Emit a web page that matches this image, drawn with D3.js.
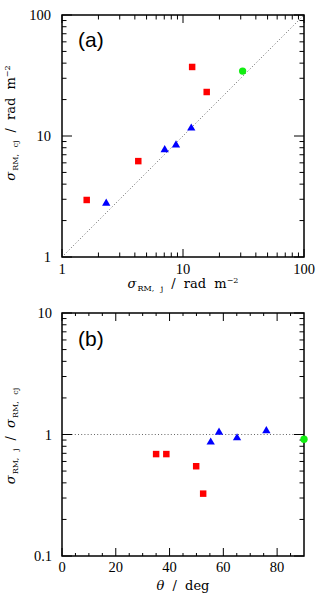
<!DOCTYPE html>
<html>
<head>
<meta charset="utf-8">
<script src="https://cdn.jsdelivr.net/npm/d3@7"></script>
<style>
  body { margin: 0; background: #fff; }
  text { font-family: "DejaVu Serif", "Liberation Serif", serif; fill: #000; }
  .tick { font-family: "Liberation Serif", serif; font-size: 14.5px; }
</style>
</head>
<body>
<div id="chart"></div>
<script>
// panel (a): sigma_RM,cj against sigma_RM,j
var aRedX = [1.6, 4.27, 11.9, 15.7];
var aRedY = [2.96, 6.2, 37.2, 23.1];
var aBlueX = [2.32, 7.06, 8.75, 11.7];
var aBlueY = [2.78, 7.7, 8.43, 11.6];
var aGreenX = [31.1];
var aGreenY = [34.4];

// panel (b): ratio against theta
var bRedTheta = [35, 38.8, 49.9, 52.5];
var bRedRatio = [0.69, 0.69, 0.548, 0.326];
var bBlueTheta = [55.3, 58.4, 65.1, 76.0];
var bBlueRatio = [0.864, 1.04, 0.937, 1.07];
var bGreenTheta = [90];
var bGreenRatio = [0.914];

var aTicks = [1, 10, 100];
var bYTicks = [0.1, 1, 10];
var bYLabels = ["0.1", "1", "10"];
var bXTicks = [0, 20, 40, 60, 80];

var width = 327, height = 599;
var svg = d3.select("#chart").append("svg")
    .attr("width", width)
    .attr("height", height);

var left = 62, right = 304;

function zip(xs, ys) {
    var out = [];
    for (var i = 0; i < xs.length; i++) out.push([xs[i], ys[i]]);
    return out;
}

// log minor ticks 2..9 in each decade
function logMinors(lo, hi) {
    var m = [];
    for (var d = lo; d < hi; d *= 10)
        for (var k = 2; k <= 9; k++) m.push(d * k);
    return m;
}

function drawFrame(g, x, y, xMajor, xMinor, yMajor, yMinor, top, bottom, xMinLen) {
    var majLen = 8, minLen = 4.5;
    var tg = g.append("g").attr("stroke", "#000").attr("stroke-width", 1);
    xMajor.forEach(function(v) {
        tg.append("line").attr("x1", x(v)).attr("x2", x(v)).attr("y1", bottom).attr("y2", bottom - majLen);
        tg.append("line").attr("x1", x(v)).attr("x2", x(v)).attr("y1", top).attr("y2", top + majLen);
    });
    xMinor.forEach(function(v) {
        tg.append("line").attr("x1", x(v)).attr("x2", x(v)).attr("y1", bottom).attr("y2", bottom - xMinLen);
        tg.append("line").attr("x1", x(v)).attr("x2", x(v)).attr("y1", top).attr("y2", top + xMinLen);
    });
    yMajor.forEach(function(v) {
        tg.append("line").attr("x1", left).attr("x2", left + majLen + 2).attr("y1", y(v)).attr("y2", y(v));
        tg.append("line").attr("x1", right).attr("x2", right - majLen - 2).attr("y1", y(v)).attr("y2", y(v));
    });
    yMinor.forEach(function(v) {
        tg.append("line").attr("x1", left).attr("x2", left + minLen).attr("y1", y(v)).attr("y2", y(v));
        tg.append("line").attr("x1", right).attr("x2", right - minLen).attr("y1", y(v)).attr("y2", y(v));
    });
    g.append("rect")
        .attr("x", left).attr("y", top)
        .attr("width", right - left).attr("height", bottom - top)
        .attr("fill", "none").attr("stroke", "#000").attr("stroke-width", 1.5);
}

function drawPoints(g, x, y, red, blue, green) {
    g.selectAll(".sq").data(red).enter().append("path")
        .attr("transform", function(d) { return "translate(" + x(d[0]) + "," + y(d[1]) + ")"; })
        .attr("d", d3.symbol().type(d3.symbolSquare).size(42))
        .attr("fill", "#ff0000");
    g.selectAll(".tri").data(blue).enter().append("path")
        .attr("transform", function(d) { return "translate(" + x(d[0]) + "," + y(d[1]) + ")"; })
        .attr("d", d3.symbol().type(d3.symbolTriangle).size(30))
        .attr("fill", "#0000ff");
    g.selectAll(".circ").data(green).enter().append("path")
        .attr("transform", function(d) { return "translate(" + x(d[0]) + "," + y(d[1]) + ")"; })
        .attr("d", d3.symbol().type(d3.symbolCircle).size(42))
        .attr("fill", "#11ee11");
}

function sigmaLabel(t, sub) {
    t.append("tspan").attr("font-style", "italic").text("σ");
    t.append("tspan").attr("font-size", "8px").attr("dy", 3).attr("dx", 1).text(sub);
    t.append("tspan").attr("dy", -3).text(" ");
}

// ---------- panel (a) ----------
var aTop = 15, aBottom = 257;
var xa = d3.scaleLog().domain([1, 100]).range([left, right]);
var ya = d3.scaleLog().domain([1, 100]).range([aBottom, aTop]);
var ga = svg.append("g");

ga.append("line")
    .attr("x1", xa(1)).attr("y1", ya(1)).attr("x2", xa(100)).attr("y2", ya(100))
    .attr("stroke", "#555").attr("stroke-width", 0.9).attr("stroke-dasharray", "1,2.2");

drawPoints(ga, xa, ya, zip(aRedX, aRedY), zip(aBlueX, aBlueY), zip(aGreenX, aGreenY));
drawFrame(ga, xa, ya, aTicks, logMinors(1, 100), aTicks, logMinors(1, 100), aTop, aBottom, 4.5);

ga.selectAll(".xl").data(aTicks).enter().append("text").attr("class", "tick")
    .attr("x", function(d) { return xa(d); }).attr("y", 274)
    .attr("text-anchor", "middle").text(function(d) { return d; });
ga.selectAll(".yl").data(aTicks).enter().append("text").attr("class", "tick")
    .attr("x", 51).attr("y", function(d) { return ya(d) + 5; })
    .attr("text-anchor", "end").text(function(d) { return d; });

ga.append("text").attr("x", 78).attr("y", 47).attr("font-size", "21px")
    .style("font-family", "'Liberation Sans', sans-serif").text("(a)");

var ta = ga.append("text").attr("x", 183).attr("y", 288)
    .attr("text-anchor", "middle").attr("font-size", "13px").attr("word-spacing", "4px");
sigmaLabel(ta, "RM, j");
ta.append("tspan").text("/ rad m");
ta.append("tspan").attr("font-size", "8px").attr("dy", -5).text("−2");

var tya = ga.append("text").attr("transform", "translate(15,123) rotate(-90)")
    .attr("text-anchor", "middle").attr("font-size", "13px").attr("word-spacing", "4px");
sigmaLabel(tya, "RM, cj");
tya.append("tspan").text("/ rad m");
tya.append("tspan").attr("font-size", "8px").attr("dy", -5).text("−2");

// ---------- panel (b) ----------
var bTop = 313, bBottom = 556;
var xb = d3.scaleLinear().domain([0, 90]).range([left, right]);
var yb = d3.scaleLog().domain([0.1, 10]).range([bBottom, bTop]);
var gb = svg.append("g");

gb.append("line")
    .attr("x1", xb(0)).attr("y1", yb(1)).attr("x2", xb(90)).attr("y2", yb(1))
    .attr("stroke", "#555").attr("stroke-width", 0.9).attr("stroke-dasharray", "1,2.2");

var bMinor = d3.range(5, 90, 5).filter(function(v) { return v % 20 !== 0; });
drawFrame(gb, xb, yb, bXTicks, bMinor, bYTicks, logMinors(0.1, 10), bTop, bBottom, 3);
drawPoints(gb, xb, yb, zip(bRedTheta, bRedRatio), zip(bBlueTheta, bBlueRatio), zip(bGreenTheta, bGreenRatio));

gb.selectAll(".xl").data(bXTicks).enter().append("text").attr("class", "tick")
    .attr("x", function(d) { return xb(d); }).attr("y", 572)
    .attr("text-anchor", "middle").text(function(d) { return d; });
gb.selectAll(".yl").data(bYTicks).enter().append("text").attr("class", "tick")
    .attr("x", 52).attr("y", function(d) { return yb(d) + 5; })
    .attr("text-anchor", "end")
    .text(function(d, i) { return bYLabels[i]; });

gb.append("text").attr("x", 78).attr("y", 346).attr("font-size", "21px")
    .style("font-family", "'Liberation Sans', sans-serif").text("(b)");

var tb = gb.append("text").attr("x", 183).attr("y", 590)
    .attr("text-anchor", "middle").attr("font-size", "13px").attr("word-spacing", "4px");
tb.append("tspan").attr("font-style", "italic").text("θ");
tb.append("tspan").text(" / deg");

var tyb = gb.append("text").attr("transform", "translate(15,436) rotate(-90)")
    .attr("text-anchor", "middle").attr("font-size", "13px").attr("word-spacing", "4px");
sigmaLabel(tyb, "RM, j");
tyb.append("tspan").text("/ ");
sigmaLabel(tyb, "RM, cj");
</script>
</body>
</html>
